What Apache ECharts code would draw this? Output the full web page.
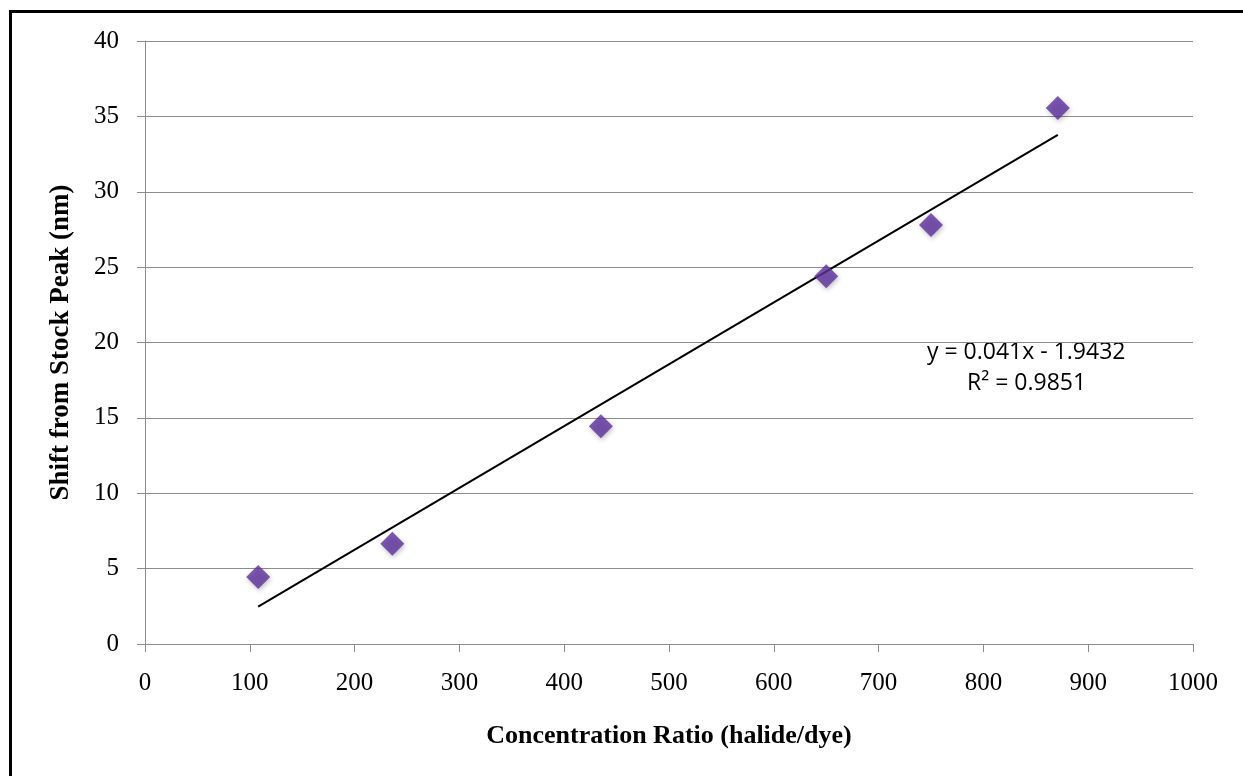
<!DOCTYPE html>
<html>
<head>
<meta charset="utf-8">
<script src="https://cdn.jsdelivr.net/npm/echarts@6/dist/echarts.min.js"></script>
<style>
  html, body { margin: 0; padding: 0; background: #fff; }
  #chart { width: 1243px; height: 776px; position: relative; }
  #frame { position: absolute; left: 9px; top: 10px; width: 1300px; height: 800px;
           border-left: 3px solid #000; border-top: 3px solid #000; pointer-events: none; }
</style>
</head>
<body>
<div id="chart"></div>
<div id="frame"></div>
<script>
// measured points
const ratio = [108, 236, 435, 650, 750, 871];
const shift = [4.45, 6.65, 14.45, 24.4, 27.8, 35.55];

// linear trendline as printed on the chart
const slope = 0.041;
const intercept = -1.9432;
const trendX = [108, 871];
const eqText = ['y = 0.041x - 1.9432', 'R² = 0.9851'];

const chart = echarts.init(document.getElementById('chart'));

const serif = '"Liberation Serif", "Times New Roman", serif';
const eqFont = '"Open Sans", "Liberation Sans", sans-serif';

const options = {
    animation: false,
    grid: { left: 145, right: 50, top: 41, bottom: 132 },
    xAxis: {
        type: 'value',
        min: 0, max: 1000, interval: 100,
        name: 'Concentration Ratio (halide/dye)',
        nameLocation: 'middle',
        nameGap: 79,
        nameTextStyle: { fontFamily: serif, fontSize: 26, fontWeight: 'bold', color: '#000' },
        axisLine: { lineStyle: { color: '#8c8c8c', width: 1 } },
        axisTick: { show: true, length: 8, lineStyle: { color: '#8c8c8c' } },
        axisLabel: { fontFamily: serif, fontSize: 25, color: '#000', margin: 27,
                     formatter: v => String(v) },
        splitLine: { show: false }
    },
    yAxis: {
        type: 'value',
        min: 0, max: 40, interval: 5,
        name: 'Shift from Stock Peak (nm)',
        nameLocation: 'middle',
        nameGap: 70,
        nameTextStyle: { fontFamily: serif, fontSize: 27, fontWeight: 'bold', color: '#000' },
        axisLine: { show: true, lineStyle: { color: '#8c8c8c', width: 1 } },
        axisTick: { show: true, length: 8, lineStyle: { color: '#8c8c8c' } },
        axisLabel: { fontFamily: serif, fontSize: 25, color: '#000', margin: 26 },
        splitLine: { show: true, lineStyle: { color: '#8c8c8c', width: 1 } }
    },
    series: [
        {
            type: 'line',
            data: trendX.map(x => [x, slope * x + intercept]),
            symbol: 'none',
            lineStyle: { color: '#000', width: 2 },
            z: 3
        },
        {
            type: 'scatter',
            data: ratio.map((x, i) => [x, shift[i]]),
            symbol: 'diamond',
            symbolSize: [24, 24],
            itemStyle: {
                color: '#5c309e',
                shadowBlur: 5,
                shadowColor: 'rgba(0,0,0,0.3)',
                shadowOffsetY: 2,
                shadowOffsetX: 1
            },
            z: 4
        }
    ],
    graphic: [
        {
            type: 'text',
            left: 927, top: 341,
            style: { text: eqText[0], fontFamily: eqFont, fontSize: 23, fill: '#000' }
        },
        {
            type: 'text',
            left: 967, top: 372,
            style: { text: eqText[1], fontFamily: eqFont, fontSize: 23, fill: '#000' }
        }
    ]
};

chart.setOption(options);
</script>
</body>
</html>
